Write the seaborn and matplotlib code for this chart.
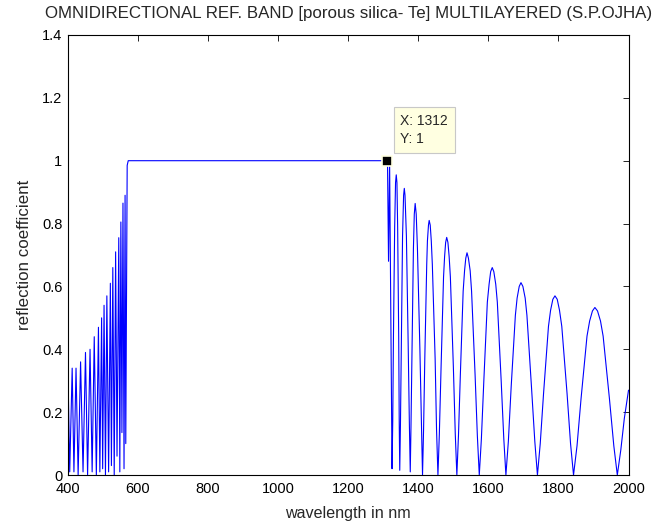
import matplotlib
matplotlib.use("Agg")
import matplotlib.pyplot as plt
import seaborn as sns
import pandas as pd

# ---- data ----
left_wl = [400, 405, 412, 417, 423, 429, 436, 443, 450, 456, 463, 469, 475, 481,
           487, 491, 496, 499, 503, 507, 511, 516, 521, 524, 528, 532, 536, 540,
           545, 548, 551, 554, 557, 560, 563, 565, 569, 572]
left_R = [0.33, 0.01, 0.34, 0.01, 0.34, 0.00, 0.36, 0.01, 0.39, 0.00, 0.40, 0.01,
          0.44, 0.00, 0.47, 0.01, 0.50, 0.02, 0.54, 0.00, 0.57, 0.01, 0.61, 0.03,
          0.66, 0.00, 0.71, 0.06, 0.755, 0.01, 0.805, 0.135, 0.865, 0.02, 0.89,
          0.10, 0.985, 1.0]

band_wl = [1312, 1315, 1318]
band_R = [1.0, 0.68, 1.0]

right_wl = [1325, 1327, 1329, 1332.5, 1335, 1337, 1339, 1341, 1344, 1345.5, 1347,
            1349, 1351.5, 1355, 1358, 1360, 1362, 1366, 1371, 1374.5, 1377,
            1379, 1382, 1386, 1388.5, 1391, 1394, 1397.5, 1404.5, 1409, 1412,
            1415, 1418.5, 1424, 1426, 1429, 1431, 1434, 1437, 1440, 1448, 1452, 1456,
            1460, 1465, 1472, 1475, 1478, 1481, 1484.5, 1488, 1491.5, 1500, 1505.5, 1510,
            1514.6, 1520, 1528, 1532, 1535.5, 1539, 1543, 1548, 1552, 1562, 1568.5, 1574,
            1580, 1587, 1597, 1602, 1606.5, 1611, 1615.5, 1621, 1625.5, 1636.5, 1644, 1650,
            1657, 1665, 1677, 1682, 1688, 1693, 1698.5, 1705, 1710, 1723, 1732.5, 1740,
            1748, 1757.5, 1771.5, 1777.5, 1784, 1790, 1796.5, 1803, 1809.5, 1824.5, 1834.5, 1843,
            1853, 1864.5, 1881.5, 1889, 1897, 1904, 1911.5, 1920, 1927.5, 1945.5, 1958, 1968,
            1978, 1988, 2000]
right_R = [0.02, 0.17, 0.44, 0.79, 0.93, 0.955, 0.93, 0.79, 0.44, 0.17, 0.015,
           0.16, 0.42, 0.76, 0.89, 0.912, 0.89, 0.76, 0.42, 0.16, 0.01,
           0.15, 0.40, 0.72, 0.83, 0.864, 0.83, 0.72, 0.40, 0.15, 0.00,
           0.145, 0.37, 0.67, 0.745, 0.795, 0.81, 0.795, 0.745, 0.67, 0.37, 0.145, 0.00,
           0.13, 0.345, 0.63, 0.695, 0.74, 0.756, 0.74, 0.695, 0.63, 0.345, 0.13, 0.00,
           0.125, 0.32, 0.585, 0.65, 0.69, 0.707, 0.69, 0.65, 0.585, 0.32, 0.125, 0.00,
           0.115, 0.30, 0.55, 0.607, 0.647, 0.66, 0.647, 0.607, 0.55, 0.30, 0.115, 0.00,
           0.107, 0.28, 0.508, 0.563, 0.60, 0.612, 0.60, 0.563, 0.508, 0.28, 0.107, 0.00,
           0.10, 0.26, 0.473, 0.524, 0.559, 0.57, 0.559, 0.524, 0.473, 0.26, 0.10, 0.00,
           0.093, 0.243, 0.442, 0.49, 0.522, 0.533, 0.522, 0.49, 0.442, 0.243, 0.093, 0.00,
           0.08, 0.18, 0.27]

tip_x, tip_y = 1312, 1

x_ticks = [400, 600, 800, 1000, 1200, 1400, 1600, 1800, 2000]
y_ticks = [0, 0.2, 0.4, 0.6, 0.8, 1, 1.2, 1.4]
y_tick_labels = ["0", "0.2", "0.4", "0.6", "0.8", "1", "1.2", "1.4"]

title = "OMNIDIRECTIONAL REF. BAND [porous silica- Te] MULTILAYERED (S.P.OJHA)"
xlabel = "wavelength in nm"
ylabel = "reflection coefficient"

# ---- build table ----
wl = left_wl + band_wl + right_wl
R = left_R + band_R + right_R
df = pd.DataFrame({"wavelength": wl, "R": R})

sns.set_theme(style="white")
plt.rcParams["font.family"] = ["Liberation Sans", "DejaVu Sans"]

fig = plt.figure(figsize=(6.69, 5.22), dpi=100)
ax = fig.add_axes([0.1016, 0.090, 0.8379, 0.843])

sns.lineplot(data=df, x="wavelength", y="R", sort=False, estimator=None,
             color="#0000ff", linewidth=0.8, ax=ax)

# data tip marker
ax.plot([tip_x], [tip_y], marker="s", markersize=7, color="black",
        markeredgecolor="#ffffe1", markeredgewidth=1.2, linestyle="none",
        zorder=5)
ax.annotate(f"X: {tip_x}\nY: {tip_y}", xy=(tip_x, tip_y),
            xytext=(13, 15), textcoords="offset pixels",
            ha="left", va="bottom", fontsize=10, linespacing=1.3,
            bbox=dict(boxstyle="square,pad=0.5", fc="#ffffe1", ec="#c8c8c8",
                      lw=0.8), zorder=6)

ax.set_xlim(400, 2000)
ax.set_ylim(0, 1.4)
ax.set_xticks(x_ticks)
ax.set_xticklabels([str(t) for t in x_ticks])
ax.set_yticks(y_ticks)
ax.set_yticklabels(y_tick_labels)

ax.tick_params(direction="in", length=4, width=0.6, top=True, right=True,
               labelsize=10.5, colors="black")
ax.tick_params(axis="x", pad=5)
ax.tick_params(axis="y", pad=4)
for s in ax.spines.values():
    s.set_color("black")
    s.set_linewidth(0.8)
    s.set_visible(True)

ax.set_title(title, fontsize=12.2, pad=12)
ax.set_xlabel(xlabel, fontsize=11.6, labelpad=7)
ax.set_ylabel(ylabel, fontsize=12.2, labelpad=7)

fig.savefig("out.png", dpi=100, facecolor="white")
